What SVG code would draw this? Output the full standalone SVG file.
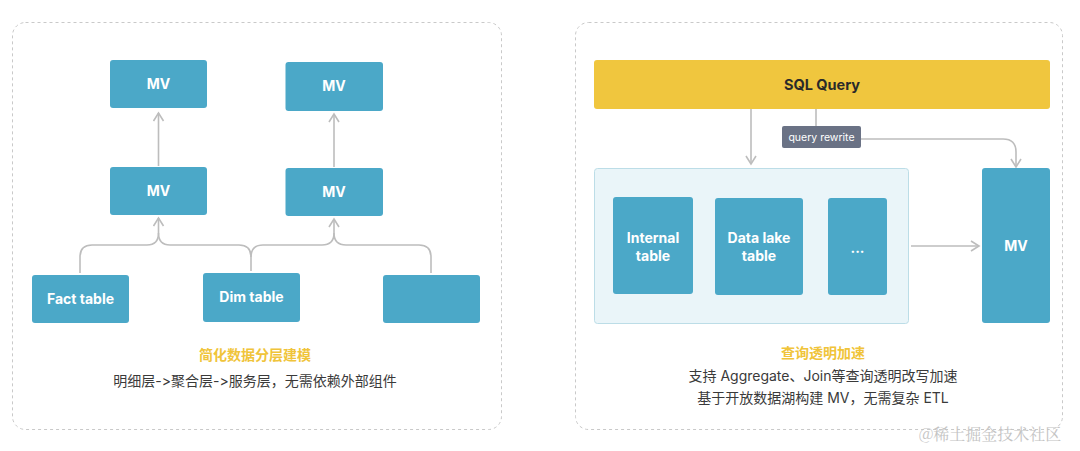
<svg xmlns="http://www.w3.org/2000/svg" width="1080" height="451" viewBox="0 0 1080 451">
<defs>
<style>
text{font-variant-ligatures:none;font-feature-settings:"calt" 0,"liga" 0}
.panel{fill:#fff;stroke:#c9c9c9;stroke-width:1;stroke-dasharray:3 3}
.box{fill:#4ba8c8}
.lbl{font-family:Inter,"Noto Sans","Noto Sans CJK SC",sans-serif;font-weight:700;font-size:14px;fill:#fff;text-anchor:middle}
.conn{fill:none;stroke:#bdbdbd;stroke-width:1.6}
.title{font-family:Inter,"Noto Sans CJK SC",sans-serif;font-weight:700;font-size:14px;fill:#f0c43a;text-anchor:middle}
.desc{font-family:Inter,"Noto Sans CJK SC",sans-serif;font-size:14px;fill:#3a3a3a;text-anchor:middle}
</style>
<marker id="ah" viewBox="0 0 12 12" refX="10" refY="6" markerWidth="12" markerHeight="12" markerUnits="userSpaceOnUse" orient="auto">
<path d="M2,1 L10,6 L2,11" fill="none" stroke="#bdbdbd" stroke-width="1.6"/>
</marker>
</defs>
<rect width="1080" height="451" fill="#fff"/>

<g id="panel-left">
<rect class="panel" x="12.5" y="22.5" width="489" height="407" rx="13"/>
</g>
<g id="panel-right">
<rect class="panel" x="575.5" y="22.5" width="487" height="407" rx="13"/>
</g>

<g id="connectors">
<path class="conn" d="M158.5,166 V113" marker-end="url(#ah)"/>
<path class="conn" d="M334,167 V114" marker-end="url(#ah)"/>
<path class="conn" d="M80,273 V257 Q80,245 92,245 H147 Q158.5,245 158.5,233 V218" marker-end="url(#ah)"/>
<path class="conn" d="M251,271 V257 Q251,245 239,245 H170 Q158.5,245 158.5,233"/>
<path class="conn" d="M251,257 Q251,245 263,245 H322 Q334,245 334,233 V219" marker-end="url(#ah)"/>
<path class="conn" d="M431,273 V257 Q431,245 419,245 H346 Q334,245 334,233"/>
<path class="conn" d="M751,109 V164" marker-end="url(#ah)"/>
<path class="conn" d="M816,109 V126"/>
<path class="conn" d="M861,139 H1003 Q1016,139 1016,152 V167" marker-end="url(#ah)"/>
<path class="conn" d="M911,246 H979" marker-end="url(#ah)"/>
</g>

<g id="mv-top-left"><rect class="box" x="110" y="60" width="97" height="48" rx="3"/><text class="lbl" x="158.5" y="89">MV</text></g>
<g id="mv-top-right"><rect class="box" x="285.5" y="62" width="97.5" height="49" rx="3"/><text class="lbl" x="334" y="91">MV</text></g>
<g id="mv-mid-left"><rect class="box" x="110" y="167" width="97" height="48" rx="3"/><text class="lbl" x="158.5" y="196">MV</text></g>
<g id="mv-mid-right"><rect class="box" x="285.5" y="168" width="97.5" height="48" rx="3"/><text class="lbl" x="334" y="197">MV</text></g>
<g id="fact-table"><rect class="box" x="32" y="275" width="97" height="48" rx="3"/><text class="lbl" x="80.5" y="304">Fact table</text></g>
<g id="dim-table"><rect class="box" x="203" y="273" width="97" height="49" rx="3"/><text class="lbl" x="251.5" y="302">Dim table</text></g>
<g id="blank-table"><rect class="box" x="383" y="275" width="97" height="48" rx="3"/></g>

<g id="left-caption">
<text class="title" x="255" y="360">简化数据分层建模</text>
<text class="desc" x="255" y="386">明细层-&gt;聚合层-&gt;服务层，无需依赖外部组件</text>
</g>

<g id="sql-query"><rect x="594" y="60" width="456" height="49" rx="3" fill="#f0c63e"/><text x="822" y="90" font-family="Inter,'Noto Sans',sans-serif" font-weight="700" font-size="14.5" fill="#2a2a2a" text-anchor="middle">SQL Query</text></g>
<g id="query-rewrite"><rect x="782" y="126" width="79" height="22" rx="2" fill="#6a7285"/><text x="821.5" y="141" font-family="Inter,'Noto Sans',sans-serif" font-size="10.5" fill="#fff" text-anchor="middle">query rewrite</text></g>

<g id="sources"><rect x="594.5" y="168.5" width="314" height="155" rx="3" fill="#eaf5f9" stroke="#bcdde7" stroke-width="1"/></g>
<g id="internal-table"><rect class="box" x="613" y="197" width="80" height="97" rx="3"/><text class="lbl" x="653" y="243">Internal</text><text class="lbl" x="653" y="261">table</text></g>
<g id="data-lake-table"><rect class="box" x="715" y="198" width="88" height="97" rx="3"/><text class="lbl" x="759" y="243">Data lake</text><text class="lbl" x="759" y="261">table</text></g>
<g id="more-tables"><rect class="box" x="828" y="198" width="59" height="97" rx="3"/><text class="lbl" x="857.5" y="253">...</text></g>
<g id="mv-right"><rect class="box" x="982" y="168" width="68" height="155" rx="3"/><text class="lbl" x="1016" y="251">MV</text></g>

<g id="right-caption">
<text class="title" x="823" y="358">查询透明加速</text>
<text class="desc" x="823" y="381">支持 Aggregate、Join等查询透明改写加速</text>
<text class="desc" x="823" y="403">基于开放数据湖构建 MV，无需复杂 ETL</text>
</g>

<g id="watermark"><text x="990" y="440" font-family="'Noto Serif CJK SC','Noto Sans CJK SC',serif" font-size="16" fill="#c4c4c4" text-anchor="middle">@稀土掘金技术社区</text></g>
</svg>
